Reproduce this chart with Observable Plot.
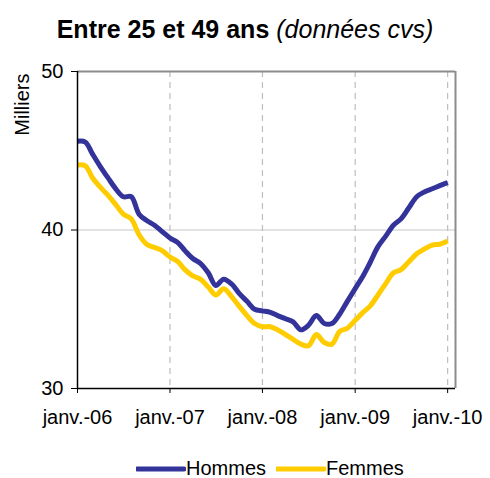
<!DOCTYPE html>
<html>
<head>
<meta charset="utf-8">
<script src="https://cdn.jsdelivr.net/npm/d3@7"></script>
<script src="https://cdn.jsdelivr.net/npm/@observablehq/plot@0.6"></script>
<style>
  html, body { margin: 0; padding: 0; background: #fff; }
  body { width: 490px; height: 478px; position: relative; overflow: hidden; font-family: "Liberation Sans", Arial, sans-serif; }
  #title { position: absolute; left: 0; top: 0; width: 490px; height: 50px; text-align: center; font-size: 25px; line-height: 25px; padding-top: 17px; box-sizing: border-box; color: #000; white-space: nowrap; }
  #title b { font-weight: bold; }
  #title i { font-style: italic; font-weight: normal; }
  #chart { position: absolute; left: 0; top: 50px; }
  #legend { position: absolute; left: 0; top: 458px; width: 490px; height: 20px; }
  .item { position: absolute; top: 0; height: 20px; font-size: 20px; line-height: 20px; color: #000; white-space: nowrap; }
  .item svg { position: absolute; top: 0; left: 0; }
</style>
</head>
<body>
<div id="title"><b>Entre 25 et 49 ans</b> <i>(données cvs)</i></div>
<div id="chart"></div>
<div id="legend"></div>
<script>
// ---- data ----
const startMonth = "2006-01-01";
const endMonth = "2010-01-01";
const hommes = [45.6, 45.55, 44.8, 44.0, 43.3, 42.6, 42.1, 42.1, 41.0, 40.6, 40.3, 39.9, 39.5, 39.2, 38.7, 38.2, 37.9, 37.3, 36.5, 36.9, 36.6, 36.0, 35.5, 35.0, 34.9, 34.8, 34.6, 34.4, 34.2, 33.7, 34.0, 34.6, 34.1, 34.1, 34.7, 35.5, 36.3, 37.1, 37.95, 38.95, 39.6, 40.3, 40.7, 41.4, 42.1, 42.4, 42.6, 42.8, 43.0];
const femmes = [44.1, 44.05, 43.3, 42.7, 42.2, 41.6, 41.0, 40.7, 39.7, 39.1, 38.9, 38.7, 38.3, 38.0, 37.5, 37.1, 36.9, 36.4, 35.9, 36.3, 35.8, 35.2, 34.6, 34.1, 33.9, 33.9, 33.7, 33.4, 33.1, 32.8, 32.7, 33.4, 32.9, 32.8, 33.6, 33.8, 34.3, 34.8, 35.2, 35.9, 36.6, 37.3, 37.5, 38.0, 38.5, 38.8, 39.05, 39.1, 39.3];
const seriesNames = ["Hommes", "Femmes"];
const seriesColors = ["#333399", "#FFCC00"];
const xTickLabels = ["janv.-06", "janv.-07", "janv.-08", "janv.-09", "janv.-10"];
const xTickDates = ["2006-01-01", "2007-01-01", "2008-01-01", "2009-01-01", "2010-01-01"];
const yTicks = [30, 40, 50];
const yLabel = "Milliers";

// ---- build table ----
const months = d3.utcMonth.range(new Date(startMonth), d3.utcMonth.offset(new Date(endMonth), 1));
const rows = [];
[hommes, femmes].forEach((vals, s) => {
  vals.forEach((v, i) => rows.push({ date: months[i], value: v, serie: seriesNames[s] }));
});
const tickDates = xTickDates.map(d => new Date(d));
const xMin = new Date(startMonth);
const xMax = d3.utcMonth.offset(new Date(endMonth), 1);

const plot = Plot.plot({
  width: 490,
  height: 380,
  marginLeft: 77,
  marginRight: 35,
  marginTop: 21,
  marginBottom: 42,
  style: { fontFamily: "'Liberation Sans', Arial, sans-serif", fontSize: "20px", color: "#000", background: "#fff", overflow: "visible" },
  x: { type: "utc", domain: [xMin, xMax] },
  y: { domain: [30, 50] },
  color: { domain: seriesNames, range: seriesColors },
  marks: [
    Plot.ruleY([40], { stroke: "#c8c8c8", strokeWidth: 1.2 }),
    Plot.ruleX(tickDates.slice(1), { stroke: "#bdbdbd", strokeWidth: 1.2, strokeDasharray: "6,5" }),
    Plot.ruleY([50], { stroke: "#8c8c8c", strokeWidth: 2 }),
    Plot.ruleX([xMax], { stroke: "#8c8c8c", strokeWidth: 2 }),
    Plot.lineY(rows, { x: "date", y: "value", z: "serie", stroke: "serie", strokeWidth: 5, curve: "catmull-rom", strokeLinejoin: "round", strokeLinecap: "butt" }),
    Plot.ruleY([30], { stroke: "#000", strokeWidth: 1.5 }),
    Plot.ruleX([xMin], { stroke: "#000", strokeWidth: 1.5 }),
    Plot.axisY({ ticks: yTicks, tickSize: 6, tickPadding: 8, tickFormat: d => String(d), label: null, stroke: "#000" }),
    Plot.axisX({ ticks: tickDates, tickSize: 5, tickPadding: 16, tickFormat: (d, i) => xTickLabels[i], label: null, stroke: "#000" }),
    Plot.text([yLabel], { frameAnchor: "top-left", dx: -63, dy: 2, rotate: -90, textAnchor: "end", fontSize: 20, fill: "#000" })
  ]
});
document.getElementById("chart").appendChild(plot);

// ---- legend ----
const legend = document.getElementById("legend");
const legendPos = [136, 276];
seriesNames.forEach((name, i) => {
  const item = document.createElement("div");
  item.className = "item";
  item.style.left = legendPos[i] + "px";
  item.style.paddingLeft = "50px";
  item.innerHTML = `<svg width="50" height="20"><line x1="1" x2="48" y1="11" y2="11" stroke="${seriesColors[i]}" stroke-width="5" stroke-linecap="round"/></svg>${name}`;
  legend.appendChild(item);
});
</script>
</body>
</html>
